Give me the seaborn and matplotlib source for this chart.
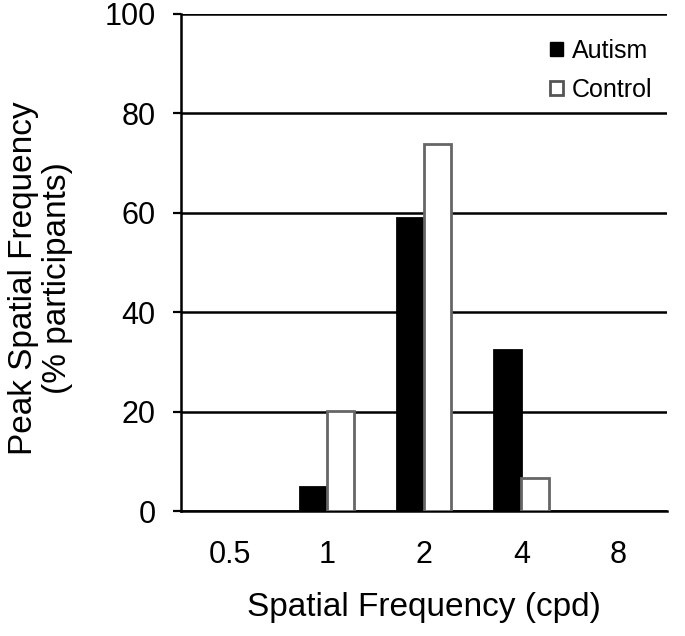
import pandas as pd
import matplotlib
matplotlib.use("Agg")
import matplotlib.pyplot as plt
import seaborn as sns
from matplotlib.patches import Patch

# Data
freqs = ["0.5", "1", "2", "4", "8"]
autism = [0, 4.8, 59, 32.3, 0]
control = [0, 20.2, 73.8, 6.6, 0]

df = pd.DataFrame({
    "Frequency": freqs * 2,
    "Percent": autism + control,
    "Group": ["Autism"] * len(freqs) + ["Control"] * len(freqs),
})

sns.set_style("white")
plt.rcParams["font.family"] = ["Liberation Sans", "DejaVu Sans"]
plt.rcParams.update({"text.color": "black", "axes.labelcolor": "black",
                     "xtick.color": "black", "ytick.color": "black"})

fig = plt.figure(figsize=(6.85, 6.36), dpi=100)
ax = fig.add_axes([0.264, 0.1965, 0.71, 0.7815])

sns.barplot(data=df, x="Frequency", y="Percent", hue="Group", order=freqs,
            palette={"Autism": "black", "Control": "white"},
            width=0.56, ax=ax, legend=False, zorder=3)

# edge colours per group, hide empty bars
n = len(freqs)
for i, bar in enumerate(ax.patches[:2 * n]):
    bar.set_edgecolor("black" if i < n else "#666666")
    bar.set_linewidth(2)
    if bar.get_height() == 0:
        bar.set_visible(False)

ax.set_ylim(0, 100)
ax.set_xlim(-0.5, 4.5)
ax.set_yticks([0, 20, 40, 60, 80, 100])
ax.yaxis.grid(True, color="black", linewidth=1.8, zorder=0)
ax.set_axisbelow(True)

ax.set_xticks(range(n))
ax.set_xticklabels(freqs)
ax.set_xticks([i - 0.5 for i in range(n + 1)], minor=True)
ax.tick_params(axis="x", which="major", length=0, labelsize=22, pad=21)
ax.tick_params(axis="x", which="minor", length=6, width=1.6, color="#555555", direction="out")
ax.tick_params(axis="y", length=6, width=1.6, labelsize=22, direction="out", left=True, pad=12)

for s in ["top", "right"]:
    ax.spines[s].set_visible(False)
for s in ["left", "bottom"]:
    ax.spines[s].set_color("black")
    ax.spines[s].set_linewidth(1.8)

ax.set_xlabel("Spatial Frequency (cpd)", fontsize=24, labelpad=16)
ax.set_ylabel("Peak Spatial Frequency\n(% participants)", fontsize=24, linespacing=1.1)
ax.yaxis.set_label_coords(-0.222, 0.469)

handles = [Patch(facecolor="black", edgecolor="black", label="Autism"),
           Patch(facecolor="white", edgecolor="#555555", linewidth=2, label="Control")]
ax.legend(handles=handles, loc="upper right", bbox_to_anchor=(1.0, 0.98),
          frameon=False, fontsize=18, handlelength=0.5, handleheight=0.5,
          handletextpad=0.35, labelspacing=0.6, borderaxespad=0.2)

fig.savefig("out.png", dpi=100)
